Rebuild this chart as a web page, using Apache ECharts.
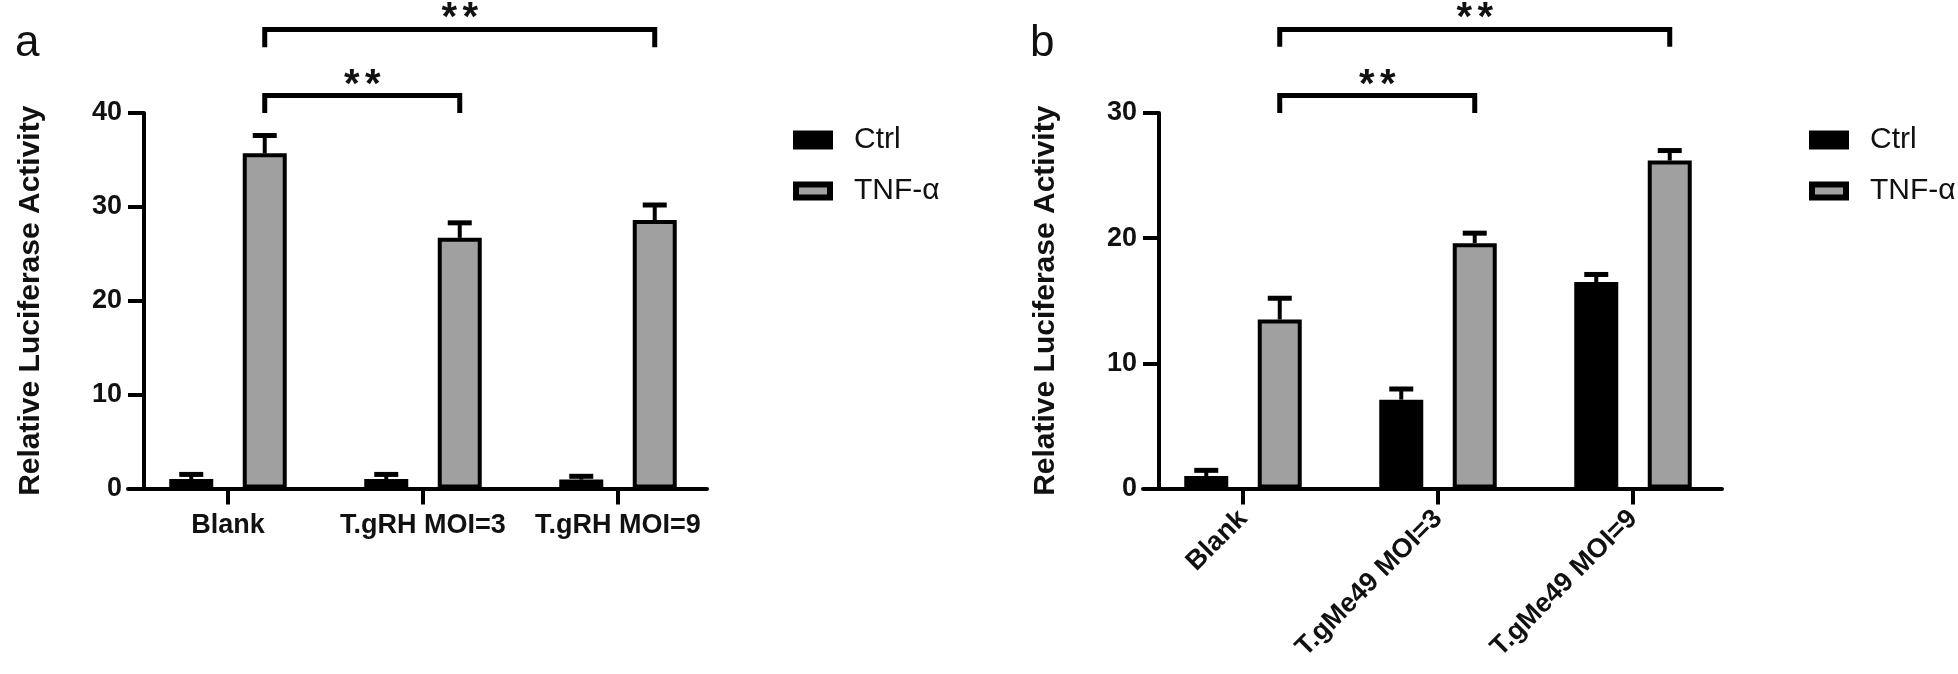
<!DOCTYPE html>
<html>
<head>
<meta charset="utf-8">
<script src="https://cdn.jsdelivr.net/npm/echarts@6/dist/echarts.min.js"></script>
<style>html,body{margin:0;padding:0;background:#fff}#c{width:1958px;height:674px}</style>
</head>
<body>
<div id="c"></div>
<script>
// ---- data ----
const categoriesA = ['Blank', 'T.gRH MOI=3', 'T.gRH MOI=9'];
const categoriesB = ['Blank', 'T.gMe49 MOI=3', 'T.gMe49 MOI=9'];
const seriesNames = ['Ctrl', 'TNF-α'];
const ctrlA = [1.0, 1.0, 0.95];
const ctrlErrA = [0.5, 0.5, 0.35];
const tnfA = [35.7, 26.7, 28.6];
const tnfErrA = [1.9, 1.6, 1.6];
const ctrlB = [1.0, 7.1, 16.5];
const ctrlErrB = [0.45, 0.85, 0.6];
const tnfB = [13.5, 19.6, 26.2];
const tnfErrB = [1.7, 0.8, 0.8];
const yTicksA = [0, 10, 20, 30, 40];
const yTicksB = [0, 10, 20, 30];
// significance brackets: [fromCategory, toCategory, legBottom, barLevel]
const bracketsA = [[0, 1, 40, 41.86], [0, 2, 47.0, 48.9]];
const bracketsB = [[0, 1, 30, 31.4], [0, 2, 35.3, 36.68]];
const sigStars = 2;

// ---- style ----
const FONT = "'Liberation Sans', Arial, sans-serif";
const barWidth = 44;
const barGapRatio = 0.67;
const off = barWidth * (1 + barGapRatio) / 2;
const gridTop = 113, gridHeight = 375.5;
const starSpacing = 21;

function errRender(params, api) {
  const c = api.coord([api.value(0), api.value(1)]);
  const t = api.coord([api.value(0), api.value(1) + api.value(2)]);
  const x = c[0] + api.value(3) * off;
  return {type: 'group', children: [
    {type: 'line', shape: {x1: x, y1: c[1], x2: x, y2: t[1]}, style: {stroke: '#000', lineWidth: 4}},
    {type: 'line', shape: {x1: x - 12, y1: t[1], x2: x + 12, y2: t[1]}, style: {stroke: '#000', lineWidth: 5}}
  ]};
}
function bracketRender(params, api) {
  const x1 = api.coord([api.value(0), 0])[0] + off;
  const x2 = api.coord([api.value(1), 0])[0] + off;
  const yl = api.coord([0, api.value(2)])[1];
  const yb = api.coord([0, api.value(3)])[1];
  const cx = (x1 + x2) / 2;
  const children = [
    {type: 'polyline', shape: {points: [[x1, yl], [x1, yb], [x2, yb], [x2, yl]]},
     style: {stroke: '#000', lineWidth: 5, fill: null, lineJoin: 'miter'}}
  ];
  for (let k = 0; k < sigStars; k++) {
    children.push({type: 'text', x: cx + (k - (sigStars - 1) / 2) * starSpacing, y: yb - 10,
      style: {text: '*', font: 'bold 40px ' + FONT, fill: '#111', align: 'center', verticalAlign: 'middle'}});
  }
  return {type: 'group', children: children};
}
function errData(vals, errs, side) { return vals.map((v, i) => [i, v, errs[i], side]); }

function panelAxes(cats, max, rotate, labelMargin) {
  return {
    x: {
      type: 'category', data: cats,
      axisLine: {show: false},
      axisTick: {show: true, alignWithLabel: true, length: 16, lineStyle: {color: '#000', width: 4}},
      axisLabel: {color: '#111', fontSize: 27, fontWeight: 'bold', fontFamily: FONT, margin: labelMargin, rotate: rotate, interval: 0}
    },
    y: {
      type: 'value', min: 0, max: max, interval: 10, offset: -13.5,
      name: 'Relative Luciferase Activity', nameLocation: 'middle', nameGap: 98,
      nameTextStyle: {color: '#111', fontSize: 30, fontWeight: 'bold', fontFamily: FONT},
      axisLine: {show: true, lineStyle: {color: '#000', width: 4}},
      axisTick: {show: true, length: 16, lineStyle: {color: '#000', width: 4}},
      axisLabel: {color: '#111', fontSize: 27, fontWeight: 'bold', fontFamily: FONT, margin: 22},
      splitLine: {show: false}
    }
  };
}
const pa = panelAxes(categoriesA, 40, 0, 24);
const pb = panelAxes(categoriesB, 30, 45, 26);

const lineAxis = (gi) => ({type: 'value', gridIndex: gi, min: 0, max: 1,
  axisLine: {show: true, lineStyle: {color: '#000', width: 4}}, axisTick: {show: false},
  axisLabel: {show: false}, splitLine: {show: false}});
const hiddenY = (gi) => ({type: 'value', gridIndex: gi, show: false, min: 0, max: 1});

const legendData = [
  {name: 'Ctrl', itemStyle: {color: '#000', borderColor: '#000', borderWidth: 6}},
  {name: 'TNF-α', itemStyle: {color: '#a0a0a0', borderColor: '#000', borderWidth: 6}}
];
const legendBase = (left) => ({
  left: left, top: 119, orient: 'vertical', itemWidth: 34, itemHeight: 13, itemGap: 19, icon: 'rect',
  selectedMode: false,
  textStyle: {fontSize: 30, color: '#111', fontFamily: FONT, lineHeight: 32, padding: [0, 0, 0, 19]},
  data: legendData
});

const barStyle = (color) => ({color: color, borderColor: '#000', borderWidth: 4});

const option = {
  animation: false,
  backgroundColor: '#fff',
  grid: [
    {left: 130.5, top: gridTop, width: 585, height: gridHeight},
    {left: 1145.5, top: gridTop, width: 585, height: gridHeight},
    {left: 128, top: gridTop, width: 579, height: gridHeight},
    {left: 1143, top: gridTop, width: 579, height: gridHeight}
  ],
  xAxis: [
    Object.assign({}, pa.x, {gridIndex: 0}),
    Object.assign({}, pb.x, {gridIndex: 1}),
    lineAxis(2), lineAxis(3)
  ],
  yAxis: [
    Object.assign({}, pa.y, {gridIndex: 0}),
    Object.assign({}, pb.y, {gridIndex: 1}),
    hiddenY(2), hiddenY(3)
  ],
  legend: [legendBase(788), legendBase(1804)],
  graphic: [
    {type: 'text', left: 15, top: 22, style: {text: 'a', font: '44px ' + FONT, fill: '#111'}},
    {type: 'text', left: 1030, top: 22, style: {text: 'b', font: '44px ' + FONT, fill: '#111'}}
  ],
  series: [
    {type: 'bar', name: seriesNames[0], xAxisIndex: 0, yAxisIndex: 0, data: ctrlA, barWidth: barWidth, barGap: (barGapRatio * 100) + '%', itemStyle: barStyle('#000')},
    {type: 'bar', name: seriesNames[1], xAxisIndex: 0, yAxisIndex: 0, data: tnfA, barWidth: barWidth, barGap: (barGapRatio * 100) + '%', itemStyle: barStyle('#a0a0a0')},
    {type: 'custom', xAxisIndex: 0, yAxisIndex: 0, renderItem: errRender, data: errData(ctrlA, ctrlErrA, -1).concat(errData(tnfA, tnfErrA, 1)), clip: false, z: 3},
    {type: 'custom', xAxisIndex: 0, yAxisIndex: 0, renderItem: bracketRender, data: bracketsA, clip: false, z: 3},
    {type: 'bar', name: seriesNames[0], xAxisIndex: 1, yAxisIndex: 1, data: ctrlB, barWidth: barWidth, barGap: (barGapRatio * 100) + '%', itemStyle: barStyle('#000')},
    {type: 'bar', name: seriesNames[1], xAxisIndex: 1, yAxisIndex: 1, data: tnfB, barWidth: barWidth, barGap: (barGapRatio * 100) + '%', itemStyle: barStyle('#a0a0a0')},
    {type: 'custom', xAxisIndex: 1, yAxisIndex: 1, renderItem: errRender, data: errData(ctrlB, ctrlErrB, -1).concat(errData(tnfB, tnfErrB, 1)), clip: false, z: 3},
    {type: 'custom', xAxisIndex: 1, yAxisIndex: 1, renderItem: bracketRender, data: bracketsB, clip: false, z: 3}
  ]
};
const chart = echarts.init(document.getElementById('c'), null, {renderer: 'canvas'});
chart.setOption(option);
</script>
</body>
</html>
